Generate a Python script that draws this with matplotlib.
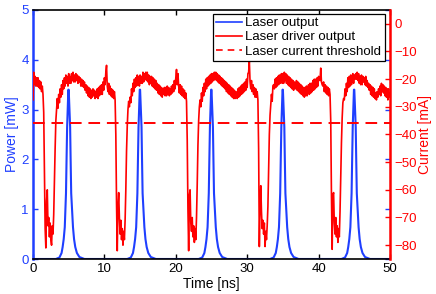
import numpy as np
import matplotlib
matplotlib.use('Agg')
import matplotlib.pyplot as plt
from matplotlib.lines import Line2D

plt.rcParams['font.family'] = ['Liberation Sans', 'DejaVu Sans']

BLUE = '#1f3fff'
RED = '#ff0000'

# ---------------- data ----------------
# laser driver output (mA), sampled every 0.1 ns from 0 to 50 ns
driver_time_step_ns = 0.1
driver_current_ma = [
    -27.5, -17.5, -22, -19, -22.5, -19.5, -22.5, -19.5, -23, -20.5,
    -23.5, -21, -24.5, -22.5, -25.5, -32, -52, -74, -81, -64,
    -60, -73, -70, -77, -72, -78, -80, -73, -76, -69,
    -57, -45, -35, -31, -27, -30.5, -25.5, -28.5, -23.5, -26.5,
    -22, -25.5, -20.5, -23.5, -19.5, -22.5, -18.5, -21.5, -19, -22.5,
    -18, -21.5, -19, -21.5, -18, -20.5, -17.5, -21, -18.5, -21,
    -18, -20.5, -18.5, -21.5, -19, -21, -19.5, -22.5, -20, -22.5,
    -20.5, -23, -21, -24, -22, -25, -22.5, -26, -23, -26.5,
    -23.5, -27, -24, -26.5, -23.5, -26, -24, -27, -24.5, -26.5,
    -23.5, -27, -23, -26, -22.5, -25.5, -22, -25.5, -21, -24,
    # 10 ns
    -19.5, -22, -17.5, -15, -22.5, -24.5, -21.5, -25.5, -22.5, -26,
    -23.5, -26.5, -24, -27, -24.5, -27.5, -40, -65, -82, -66,
    -61, -70, -76, -71, -78, -74, -80, -75, -78, -71,
    -60, -46, -37, -31, -28, -30, -26.5, -28.5, -23.5, -26,
    -21.5, -24.5, -20, -23, -19.5, -22.5, -18.5, -22, -19, -22.5,
    -18.5, -21.5, -19, -21.5, -17.5, -21, -18, -20, -17.5, -20.5,
    -17.5, -21, -18.5, -22, -19, -21.5, -19, -22.5, -19.5, -23,
    -20, -23.5, -20.5, -24, -21.5, -25, -22, -25.5, -22.5, -26,
    -23, -26.5, -23.5, -25.5, -23, -26, -23, -26, -22.5, -25.5,
    -23, -26, -23.5, -25.5, -22.5, -25, -22, -24.5, -20.5, -23.5,
    # 20 ns
    -19.5, -16.5, -22, -18, -22.5, -25, -22, -25.5, -22.5, -26,
    -23.5, -26.5, -24, -27, -25, -28, -42, -67, -82, -62,
    -60, -72, -75, -70, -77, -73, -79, -74, -78, -70,
    -58, -44, -35, -30, -27.5, -30, -25, -28, -23, -26,
    -21.5, -24.5, -20, -23.5, -19.5, -22.5, -19, -22, -18.5, -21.5,
    -18, -21, -18, -20.5, -17.5, -20, -17.5, -20.5, -18, -21,
    -18.5, -21.5, -19, -22, -19.5, -22.5, -20, -23, -20.5, -23.5,
    -21, -24.5, -21.5, -25, -22, -25.5, -22.5, -26, -23, -26.5,
    -23.5, -27, -24, -27, -24.5, -25, -27, -23.5, -26.5, -23,
    -26, -22.5, -25.5, -22, -25, -21.5, -24.5, -21, -24, -20,
    # 30 ns
    -23, -18, -17.5, -13.5, -21, -23.5, -20.5, -24.5, -22, -25.5,
    -23, -26.5, -23.5, -26.5, -24.5, -27.5, -45, -80.5, -66, -58.5,
    -68, -74, -71, -76, -72, -80.5, -75, -78, -73, -66,
    -52, -40, -33, -29, -25.5, -28, -22.5, -22, -23.5, -20,
    -23, -19.5, -22.5, -19, -22, -18.5, -21.5, -19, -18, -21.5,
    -18, -21.5, -17.5, -20.5, -18, -21.5, -18.5, -22, -19, -22.5,
    -19.5, -23, -20, -23.5, -20.5, -24, -21, -22, -23.5, -20.5,
    -24, -21, -24.5, -21.5, -25, -22, -25.5, -22.5, -26, -23,
    -26.5, -23, -26, -22.5, -26, -23, -22, -25.5, -21.5, -25,
    -21.5, -24.5, -20.5, -24, -20, -23.5, -20, -23, -19.5, -22.5,
    # 40 ns
    -19, -20, -20.5, -16, -21, -22, -22.5, -21, -24.5, -22,
    -25, -22.5, -25.5, -23, -26, -23.5, -25.5, -35, -62, -81.5,
    -62, -61, -72, -76, -70, -77, -73, -79, -74, -77,
    -68, -55, -43, -34, -28.5, -27, -27.5, -23.5, -26, -21.5,
    -24.5, -19.5, -23, -19, -22.5, -18.5, -22, -19, -18, -21.5,
    -18.5, -20, -18, -20, -17.5, -20.5, -18, -21.5, -19, -22,
    -18.5, -22, -19, -21, -19.5, -22, -19, -22.5, -20.5, -23,
    -21.5, -24, -22, -25.5, -22.5, -26, -23, -26.5, -23.5, -27,
    -25, -27.5, -24.5, -26.5, -23.5, -25.5, -22.5, -26, -21.5, -24.5,
    -22, -25, -22.5, -26, -23, -26.5, -23.5, -27.5, -23.5, -26.5,
    -25,
]

# laser output pulses (mW): pulse centres and one read-off pulse profile
pulse_centers_ns = [5, 15, 25, 35, 45]
pulse_offset_ns = [-1.8, -1.3, -1.0, -0.85, -0.7, -0.55, -0.38, -0.3, -0.22, -0.05,
                   0.0, 0.2, 0.27, 0.35, 0.6, 0.75, 0.92, 1.15, 1.5, 2.2]
pulse_power_mw = [0.0, 0.03, 0.12, 0.24, 0.4, 0.64, 1.32, 2.0, 2.65, 3.4,
                  3.4, 2.65, 2.0, 1.32, 0.64, 0.4, 0.24, 0.12, 0.04, 0.0]

threshold_ma = -36

x_ticks = [0, 10, 20, 30, 40, 50]
power_ticks = [0, 1, 2, 3, 4, 5]
current_ticks = [0, -10, -20, -30, -40, -50, -60, -70, -80]

# ---------------- derived traces ----------------
driver_time_ns = np.arange(len(driver_current_ma)) * driver_time_step_ns
blue_t = [0.0]
blue_p = [0.0]
for c in pulse_centers_ns:
    for o, p in zip(pulse_offset_ns, pulse_power_mw):
        blue_t.append(c + o)
        blue_p.append(p)
blue_t.append(50.0)
blue_p.append(0.0)

# ---------------- figure ----------------
fs = 9.5
fig = plt.figure(figsize=(4.36, 2.94), dpi=100)
ax = fig.add_axes([33 / 436, 1 - 259 / 294, 357 / 436, 249 / 294])
ax2 = ax.twinx()

ax.plot(blue_t, blue_p, color=BLUE, lw=1.5, solid_joinstyle='round')
ax2.plot(driver_time_ns, driver_current_ma, color=RED, lw=1.2)
ax2.axhline(threshold_ma, color=RED, lw=1.4, dashes=(6, 3.5))

ax.set_xlim(0, 50)
ax.set_ylim(0, 5)
ax2.set_ylim(-85, 5)
ax.set_xticks(x_ticks)
ax.set_yticks(power_ticks)
ax2.set_yticks(current_ticks)
ax2.set_yticklabels([('0' if v == 0 else f'\u2212{abs(v)}') for v in current_ticks])

ax.tick_params(axis='x', direction='in', length=3.5, width=1, top=True,
               labelsize=fs, colors='black', pad=3)
ax.tick_params(axis='y', direction='in', length=3.5, width=1, left=True, right=True,
               labelsize=fs, colors=BLUE, pad=3)
ax2.tick_params(axis='y', direction='in', length=3.5, width=1, right=True,
                labelsize=fs, colors=RED, pad=3)

for s in ['top', 'bottom']:
    ax.spines[s].set_color('black')
    ax.spines[s].set_linewidth(1.2)
ax.spines['left'].set_color(BLUE)
ax.spines['left'].set_linewidth(1.8)
ax.spines['right'].set_visible(False)
for s in ['top', 'bottom', 'left']:
    ax2.spines[s].set_visible(False)
ax2.spines['right'].set_color(RED)
ax2.spines['right'].set_linewidth(1.8)

ax.set_xlabel('Time [ns]', fontsize=10, labelpad=1)
ax.set_ylabel('Power [mW]', fontsize=10, color=BLUE, labelpad=2)
ax2.set_ylabel('Current [mA]', fontsize=10, color=RED, labelpad=1)

handles = [Line2D([], [], color=BLUE, lw=1.2),
           Line2D([], [], color=RED, lw=1.2),
           Line2D([], [], color=RED, lw=1.2, dashes=(4, 3))]
labels = ['Laser output', 'Laser driver output', 'Laser current threshold']
leg = ax2.legend(handles, labels, loc='upper right', bbox_to_anchor=(0.985, 0.985),
                 fontsize=fs, frameon=True, fancybox=False, framealpha=1,
                 edgecolor='black', borderpad=0.25, labelspacing=0.15,
                 handlelength=1.95, handletextpad=0.25, borderaxespad=0)
leg.get_frame().set_linewidth(0.9)

fig.savefig('out.png', dpi=100)
